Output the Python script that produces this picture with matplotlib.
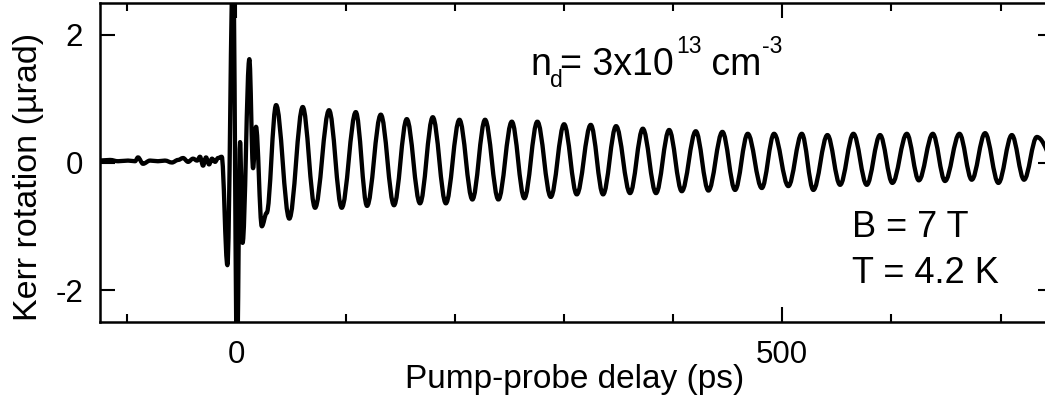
"""
Kerr rotation transient: damped spin precession after the pump pulse.
"""
import matplotlib
matplotlib.use("Agg")
import matplotlib.pyplot as plt
import numpy as np
from matplotlib.path import Path
from matplotlib.patches import PathPatch
from matplotlib.ticker import MultipleLocator

plt.rcParams["font.family"] = ["Liberation Sans", "DejaVu Sans"]
plt.rcParams["axes.unicode_minus"] = False

# --- data (delay in ps, Kerr rotation in urad) -----------------------------
# flat baseline before the pump arrives
pre_t = [-126, -115.7, -108.4, -99.2, -92.8, -90.1, -85.5, -79.1, -71.8, -65.4,
         -59.0, -53.4, -48.8, -44.2, -39.7, -36.0, -33.3, -30.5, -27.8, -25.0,
         -22.3, -19.5, -16.8]
pre_v = [0.03, 0.04, 0.02, 0.03, 0.02, 0.08, -0.02, 0.03, 0.02, 0.03,
         0.00, 0.04, 0.07, 0.01, 0.06, 0.03, 0.09, -0.05, 0.08, -0.03,
         0.06, 0.01, 0.07]

# coherent artefact around zero delay
burst_t = [-13.4, -8.2, -3.0, 0.6, 3.4, 5.7, 11.9, 15.3, 18.0, 23.3, 27.8]
burst_v = [0.09, -1.61, 3.2, -3.2, 0.32, -1.26, 1.62, -0.09, 0.56, -1.00, -0.79]

# precession maxima
peak_t = [36.4, 60.8, 84.9, 109.4, 132.3, 156.1, 179.9, 204.3, 227.8, 252.3,
          275.7, 300.2, 324.6, 347.8, 372.3, 396.4, 420.8, 445.2, 468.4, 492.5,
          517.9, 541.4, 565.2, 589.6, 614.1, 637.9, 662.3, 685.8, 710.3, 733.2]
peak_v = [0.90, 0.87, 0.82, 0.79, 0.75, 0.68, 0.71, 0.67, 0.67, 0.64,
          0.64, 0.60, 0.59, 0.57, 0.53, 0.51, 0.49, 0.48, 0.45, 0.45,
          0.45, 0.43, 0.45, 0.43, 0.45, 0.45, 0.45, 0.46, 0.43, 0.40]

# precession minima
trough_t = [48.5, 72.1, 96.5, 119.7, 144.4, 168.2, 191.9, 216.2, 240.0, 263.8,
            288.0, 311.8, 335.9, 360.6, 384.4, 408.0, 432.4, 456.8, 481.3, 505.6,
            528.5, 553.0, 577.4, 600.9, 625.1, 649.1, 673.6, 698.0, 721.5, 757.4]
trough_v = [-0.88, -0.71, -0.71, -0.68, -0.67, -0.64, -0.64, -0.58, -0.58, -0.56,
            -0.54, -0.50, -0.50, -0.48, -0.48, -0.45, -0.44, -0.43, -0.40, -0.37,
            -0.43, -0.35, -0.35, -0.32, -0.28, -0.29, -0.27, -0.32, -0.27, -0.28]

t = np.array(pre_t + burst_t + peak_t + trough_t, dtype=float)
v = np.array(pre_v + burst_v + peak_v + trough_v, dtype=float)
order = np.argsort(t)
t, v = t[order], v[order]

fig = plt.figure(figsize=(10.45, 3.95), dpi=100)
ax = fig.add_axes([100 / 1045, 73 / 395, 953 / 1045, 319 / 395])

# smooth trace through the extrema (horizontal tangent at each one)
verts = [(t[0], v[0])]
codes = [Path.MOVETO]
for t0, v0, t1, v1 in zip(t[:-1], v[:-1], t[1:], v[1:]):
    d = 0.36 * (t1 - t0)
    verts += [(t0 + d, v0), (t1 - d, v1), (t1, v1)]
    codes += [Path.CURVE4] * 3
ax.add_patch(PathPatch(Path(verts, codes), fill=False, lw=3.1, ec="black",
                       joinstyle="round", capstyle="round"))

ax.set_xlim(-124.9, 748)
ax.set_ylim(-2.5, 2.5)
ax.xaxis.set_major_locator(MultipleLocator(500))
ax.xaxis.set_minor_locator(MultipleLocator(100))
ax.yaxis.set_major_locator(MultipleLocator(2))
ax.tick_params(which="both", direction="in", top=True, right=True,
               width=1.5, labelsize=22.5)
ax.tick_params(which="major", length=11)
ax.tick_params(which="minor", length=6)
ax.tick_params(axis="x", pad=13)
ax.tick_params(axis="y", pad=12)
for spine in ax.spines.values():
    spine.set_linewidth(1.8)

fig.text(575 / 1045, 7 / 395, "Pump-probe delay (ps)", fontsize=24,
         ha="center", va="baseline")
fig.text(37 / 1045, 218 / 395, "Kerr rotation (\u00b5rad)", fontsize=24.5,
         rotation=90, rotation_mode="anchor", ha="center", va="baseline")

# n_d = 3x10^13 cm^-3, built piece by piece so scripts sit like the original
y0 = 1.373
big, small = 27, 16.5
piece = ax.text(269.0, y0, "n", fontsize=big, va="baseline")
parts = [("d", small, -1, -9.0), ("= 3x10", big, -1.5, 0), ("13", small, 1.5, 15.5),
         (" cm", big, -0.5, 0), ("-3", small, 0.5, 15.5)]
for txt, size, dx, dy in parts:
    piece = ax.annotate(txt, xy=(1, y0), xycoords=(piece, "data"),
                        xytext=(dx, dy), textcoords="offset points",
                        fontsize=size, va="baseline", ha="left")

ax.text(563.5, -1.17, "B = 7 T", fontsize=26, ha="left", va="baseline")
ax.text(563.5, -1.89, "T = 4.2 K", fontsize=26, ha="left", va="baseline")

fig.savefig("out.png", dpi=100)
